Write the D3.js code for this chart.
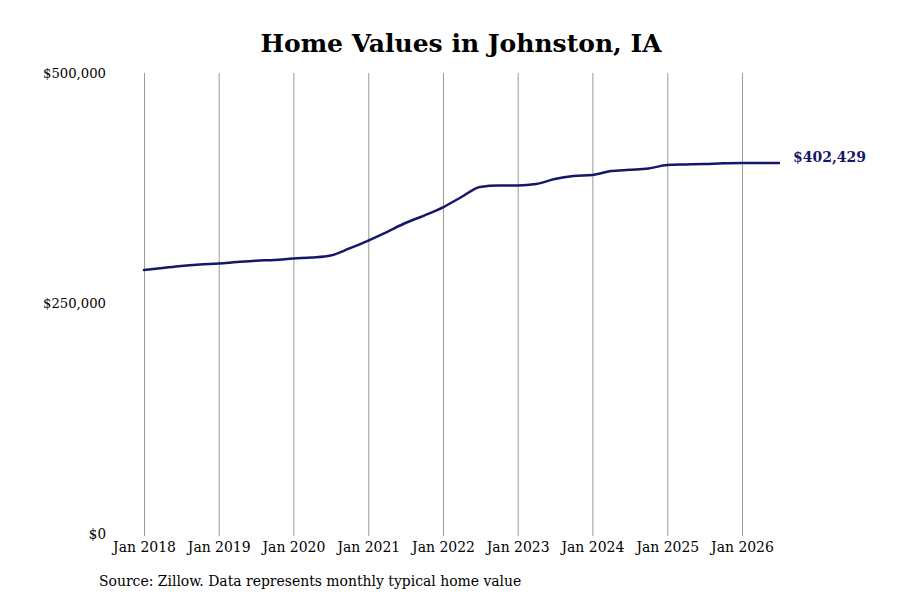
<!DOCTYPE html>
<html>
<head>
<meta charset="utf-8">
<script src="https://cdn.jsdelivr.net/npm/d3@7"></script>
<style>
  body { margin: 0; background: #fff; }
  svg text { font-family: "DejaVu Serif", serif; }
</style>
</head>
<body>
<svg id="chart" width="900" height="600"></svg>
<script>
// quarterly readings of the typical home value, Jan 2018 .. Jul 2026
const dates = [
  "2018-01", "2018-04", "2018-07", "2018-10",
  "2019-01", "2019-04", "2019-07", "2019-10",
  "2020-01", "2020-04", "2020-07", "2020-10",
  "2021-01", "2021-04", "2021-07", "2021-10",
  "2022-01", "2022-04", "2022-07", "2022-10",
  "2023-01", "2023-04", "2023-07", "2023-10",
  "2024-01", "2024-04", "2024-07", "2024-10",
  "2025-01", "2025-04", "2025-07", "2025-10",
  "2026-01", "2026-04", "2026-07"
];
const values = [
  286300, 288500, 290700, 292300,
  293400, 295000, 296400, 297200,
  298800, 299900, 302100, 309700,
  318300, 327500, 337300, 345400,
  354300, 365500, 376400, 378000,
  378000, 379600, 385000, 388300,
  389400, 393700, 395000, 396400,
  400200, 400800, 401300, 402100,
  402500, 402500, 402429
];
const yTicks = [0, 250000, 500000];
const xTickYears = [2018, 2019, 2020, 2021, 2022, 2023, 2024, 2025, 2026];

const title = "Home Values in Johnston, IA";
const source = "Source: Zillow. Data represents monthly typical home value";
const lineColor = "#16166a";

const parse = d3.timeParse("%Y-%m");
const data = dates.map((d, i) => ({ date: parse(d), value: values[i] }));

const svg = d3.select("#chart");
const margin = { top: 73, right: 121, bottom: 66, left: 144 };
const width = 900 - margin.left - margin.right;
const height = 600 - margin.top - margin.bottom;

const x = d3.scaleTime()
  .domain([data[0].date, data[data.length - 1].date])
  .range([0, width]);
const y = d3.scaleLinear().domain([0, 500000]).range([height, 0]);

// title
svg.append("text")
  .attr("x", 461)
  .attr("y", 43)
  .attr("text-anchor", "middle")
  .attr("dominant-baseline", "central")
  .attr("font-size", 25)
  .attr("font-weight", "bold")
  .attr("fill", "#000")
  .text(title);

const g = svg.append("g")
  .attr("transform", "translate(" + margin.left + "," + margin.top + ")");

// vertical grid lines + year labels
const xAxis = d3.axisBottom(x)
  .tickValues(xTickYears.map(yr => new Date(yr, 0, 1)))
  .tickSize(height + 2)
  .tickPadding(5)
  .tickFormat(d3.timeFormat("Jan %Y"));

g.append("g")
  .attr("class", "axis axis--x")
  .call(xAxis)
  .call(s => s.select(".domain").remove())
  .call(s => s.selectAll(".tick line").attr("stroke", "#9a9a9a").attr("stroke-width", 1))
  .call(s => s.selectAll(".tick text")
    .attr("font-family", "DejaVu Serif")
    .attr("font-stretch", "condensed")
    .attr("font-size", 15.5)
    .attr("fill", "#000"));

// y labels ($0 comes out in the serif face, the others in sans)
const yAxis = d3.axisLeft(y)
  .tickValues(yTicks)
  .tickSize(0)
  .tickPadding(38)
  .tickFormat(d => "$" + d3.format(",")(d));

g.append("g")
  .attr("class", "axis axis--y")
  .call(yAxis)
  .call(s => s.select(".domain").remove())
  .call(s => s.selectAll(".tick text")
    .attr("font-family", d => d === 0 ? "DejaVu Serif" : "DejaVu Sans")
    .attr("font-stretch", d => d === 0 ? "condensed" : "normal")
    .attr("font-size", d => d === 0 ? 15 : 13.2)
    .attr("fill", "#000"));

// value line
const line = d3.line()
  .x(d => x(d.date))
  .y(d => y(d.value))
  .curve(d3.curveMonotoneX);

g.append("path")
  .datum(data)
  .attr("fill", "none")
  .attr("stroke", lineColor)
  .attr("stroke-width", 2.5)
  .attr("stroke-linejoin", "round")
  .attr("stroke-linecap", "round")
  .attr("d", line);

// last value label
const last = data[data.length - 1];
g.append("text")
  .attr("x", x(last.date) + 14)
  .attr("y", y(last.value) - 6)
  .attr("dominant-baseline", "central")
  .attr("font-size", 14)
  .attr("font-weight", "bold")
  .attr("fill", lineColor)
  .text("$" + d3.format(",")(last.value));

// source note
svg.append("text")
  .attr("x", 99)
  .attr("y", 581)
  .attr("dominant-baseline", "central")
  .attr("font-size", 15.5)
  .attr("font-stretch", "condensed")
  .attr("fill", "#000")
  .text(source);
</script>
</body>
</html>
